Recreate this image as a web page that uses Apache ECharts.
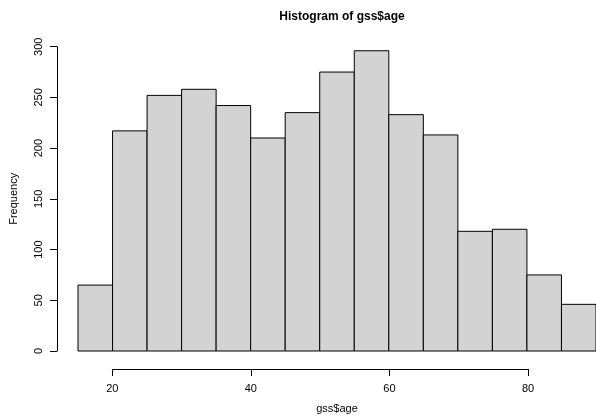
<!DOCTYPE html>
<html>
<head>
<meta charset="utf-8">
<script src="https://cdn.jsdelivr.net/npm/echarts@6/dist/echarts.min.js"></script>
<style>
html,body{margin:0;padding:0;background:#fff;}
#c{width:596px;height:419px;}
</style>
</head>
<body>
<div id="c"></div>
<script>
var breaks = [15,20,25,30,35,40,45,50,55,60,65,70,75,80,85,90];
var counts = [65,217,252,258,242,210,235,275,296,233,213,118,120,75,46];
var xTicks = [20,40,60,80];
var yTicks = [0,50,100,150,200,250,300];
var titleText = 'Histogram of gss$age';
var xLabel = 'gss$age';
var yLabel = 'Frequency';

var binData = counts.map(function(c,i){ return [breaks[i], breaks[i+1], c]; });
var FONT = 'Liberation Sans, Arial, sans-serif';

var chart = echarts.init(document.getElementById('c'), null, {renderer:'canvas'});
chart.setOption({
  animation:false,
  backgroundColor:'#ffffff',
  title:{
    text:titleText, left:337, top:6, textAlign:'center',
    textStyle:{fontFamily:FONT, fontSize:12, fontWeight:'bold', color:'#000'}
  },
  grid:[
    {left:77.7, right:-1.6, top:46.7, bottom:63.3, containLabel:false},
    {left:112.3, right:68, top:368, height:1, containLabel:false}
  ],
  xAxis:[
    {gridIndex:0, type:'value', min:breaks[0], max:breaks[breaks.length-1],
     axisLine:{show:false}, axisTick:{show:false}, axisLabel:{show:false}, splitLine:{show:false},
     name:xLabel, nameLocation:'middle', nameGap:52,
     nameTextStyle:{fontFamily:FONT, fontSize:11, color:'#000'}},
    {gridIndex:1, type:'value', min:xTicks[0], max:xTicks[xTicks.length-1], interval:20,
     axisLine:{show:true, onZero:false, lineStyle:{color:'#000', width:1}},
     axisTick:{show:true, length:7, lineStyle:{color:'#000', width:1}},
     axisLabel:{show:true, margin:14, fontFamily:FONT, fontSize:11, color:'#000',
       formatter:function(v){ return xTicks.indexOf(v)>=0 ? String(v) : ''; }},
     splitLine:{show:false}}
  ],
  yAxis:[
    {gridIndex:0, type:'value', min:yTicks[0], max:yTicks[yTicks.length-1], interval:50,
     offset:21,
     axisLine:{show:true, lineStyle:{color:'#000', width:1}},
     axisTick:{show:true, length:7, lineStyle:{color:'#000', width:1}},
     axisLabel:{show:true, rotate:90, margin:13, fontFamily:FONT, fontSize:11, color:'#000'},
     splitLine:{show:false},
     name:yLabel, nameLocation:'middle', nameGap:38, nameRotate:90,
     nameTextStyle:{fontFamily:FONT, fontSize:11, color:'#000'}},
    {gridIndex:1, type:'value', show:false, min:0, max:1}
  ],
  series:[{
    type:'custom',
    xAxisIndex:0, yAxisIndex:0,
    data:binData,
    clip:false,
    renderItem:function(params, api){
      var p0 = api.coord([api.value(0), api.value(2)]);
      var p1 = api.coord([api.value(1), 0]);
      return {
        type:'rect',
        shape:{x:p0[0], y:p0[1], width:p1[0]-p0[0], height:p1[1]-p0[1]},
        style:{fill:'#d3d3d3', stroke:'#000', lineWidth:1}
      };
    },
    encode:{x:[0,1], y:2}
  }]
});
</script>
</body>
</html>
